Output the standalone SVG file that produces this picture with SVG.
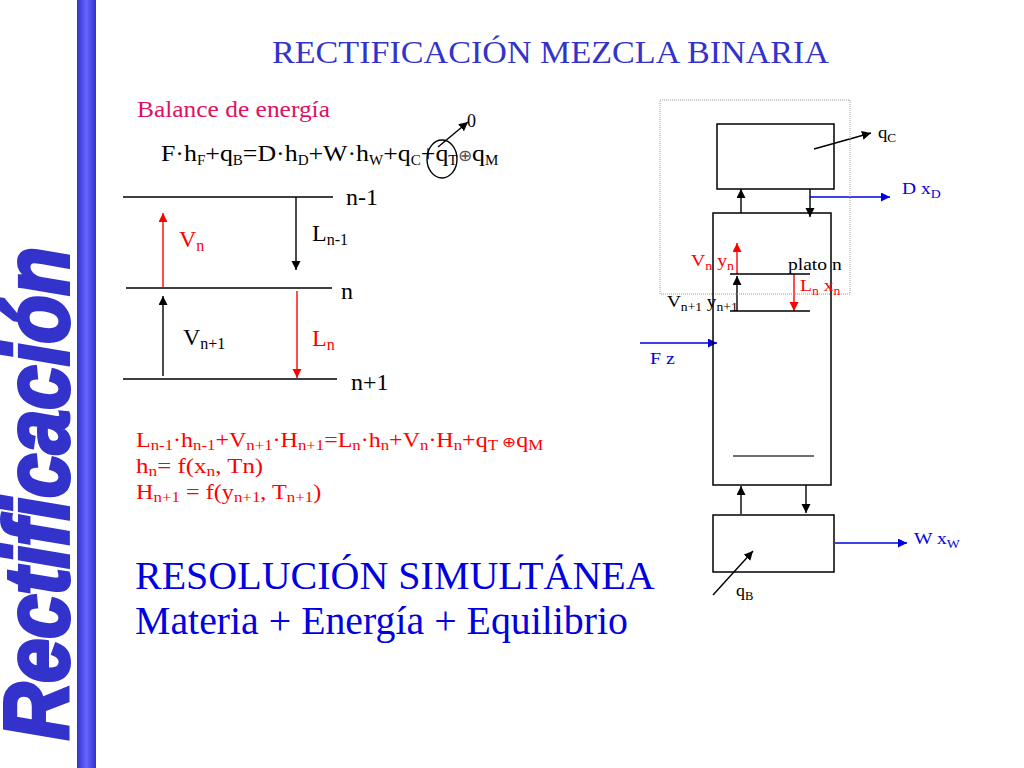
<svg xmlns="http://www.w3.org/2000/svg" width="1024" height="768" viewBox="0 0 1024 768">
<style>
text{font-family:"Liberation Serif","Times New Roman",serif;white-space:pre}
.k{fill:#000}.r{fill:#f00}.b{fill:#0000e0}
.l{stroke:#000;stroke-width:1.4;fill:none}
.lr{stroke:#f00;stroke-width:1.4;fill:none}
.lb{stroke:#0000e0;stroke-width:1.6;fill:none}
.box{stroke:#000;stroke-width:1.5;fill:none}
</style>
<defs>
<linearGradient id="bar" x1="0" x2="1" y1="0" y2="0"><stop offset="0" stop-color="#3333cc"/><stop offset=".5" stop-color="#6666ff"/><stop offset="1" stop-color="#3333cc"/></linearGradient>
<marker id="ak" markerWidth="10" markerHeight="10" refX="9" refY="4.5" orient="auto" markerUnits="userSpaceOnUse"><path d="M0 0L9 4.5L0 9z" fill="#000"/></marker>
<marker id="ar" markerWidth="10" markerHeight="10" refX="9" refY="4.5" orient="auto" markerUnits="userSpaceOnUse"><path d="M0 0L9 4.5L0 9z" fill="#f00"/></marker>
<marker id="ab" markerWidth="10" markerHeight="10" refX="9" refY="4.5" orient="auto" markerUnits="userSpaceOnUse"><path d="M0 0L9 4.5L0 9z" fill="#0000e0"/></marker>
</defs>
<rect width="1024" height="768" fill="#fff"/>
<rect x="77" y="0" width="19" height="768" fill="url(#bar)"/>
<text transform="translate(68 740) rotate(-90)" textLength="493" lengthAdjust="spacingAndGlyphs" style="font-family:'Liberation Sans',Arial,sans-serif;font-weight:bold;font-style:italic;font-size:90px;stroke:#3333cc;stroke-width:4px" fill="#3333cc">Rectificación</text>
<text x="272" y="63" font-size="32" fill="#3333cc" textLength="557" lengthAdjust="spacingAndGlyphs">RECTIFICACIÓN MEZCLA BINARIA</text>
<text transform="translate(137 117) scale(1.06 1)" font-size="24" fill="#e0115f">Balance de energía</text>
<text x="467" y="127" font-size="18" class="k">0</text>
<text transform="translate(161 161) scale(1.077 1)" font-size="24" class="k">F·h<tspan font-size="14" dy="4">F</tspan><tspan dy="-4">+q</tspan><tspan font-size="14" dy="4">B</tspan><tspan dy="-4">=D·h</tspan><tspan font-size="14" dy="4">D</tspan><tspan dy="-4">+W·h</tspan><tspan font-size="14" dy="4">W</tspan><tspan dy="-4">+q</tspan><tspan font-size="14" dy="4">C</tspan><tspan dy="-4">+q</tspan><tspan font-size="14" dy="4">T</tspan><tspan dy="-4" font-size="16" fill="#555">⊕</tspan><tspan>q</tspan><tspan font-size="14" dy="4">M</tspan></text>
<text x="346" y="205" font-size="24" class="k">n-1</text>
<text x="341" y="299" font-size="24" class="k">n</text>
<text x="351" y="390" font-size="24" class="k">n+1</text>
<text x="179" y="247" font-size="24" class="r">V<tspan font-size="16" dy="4">n</tspan></text>
<text x="312" y="241" font-size="24" class="k">L<tspan font-size="16" dy="4">n-1</tspan></text>
<text x="183" y="345" font-size="24" class="k">V<tspan font-size="16" dy="4">n+1</tspan></text>
<text x="312" y="346" font-size="24" class="r">L<tspan font-size="16" dy="4">n</tspan></text>
<text transform="translate(136 447) scale(1.2 1)" font-size="20" class="r">L<tspan font-size="14" dy="3">n-1</tspan><tspan dy="-3">·h</tspan><tspan font-size="14" dy="3">n-1</tspan><tspan dy="-3">+V</tspan><tspan font-size="14" dy="3">n+1</tspan><tspan dy="-3">·H</tspan><tspan font-size="14" dy="3">n+1</tspan><tspan dy="-3">=L</tspan><tspan font-size="14" dy="3">n</tspan><tspan dy="-3">·h</tspan><tspan font-size="14" dy="3">n</tspan><tspan dy="-3">+V</tspan><tspan font-size="14" dy="3">n</tspan><tspan dy="-3">·H</tspan><tspan font-size="14" dy="3">n</tspan><tspan dy="-3">+q</tspan><tspan font-size="14" dy="3">T</tspan><tspan dy="-3" font-size="14"> ⊕</tspan><tspan>q</tspan><tspan font-size="14" dy="3">M</tspan></text>
<text transform="translate(136 473) scale(1.245 1)" font-size="20" class="r">h<tspan font-size="14" dy="3">n</tspan><tspan dy="-3">= f(x</tspan><tspan font-size="14" dy="3">n</tspan><tspan dy="-3">, Tn)</tspan></text>
<text transform="translate(136 499) scale(1.21 1)" font-size="20" class="r">H<tspan font-size="14" dy="3">n+1</tspan><tspan dy="-3"> = f(y</tspan><tspan font-size="14" dy="3">n+1</tspan><tspan dy="-3">, T</tspan><tspan font-size="14" dy="3">n+1</tspan><tspan dy="-3">)</tspan></text>
<text x="135" y="589" font-size="40" class="b">RESOLUCIÓN SIMULTÁNEA</text>
<text x="135" y="634" font-size="40" class="b" textLength="493" lengthAdjust="spacingAndGlyphs">Materia + Energía + Equilibrio</text>
<g id="connectors">
<path class="l" d="M123 197H333M126 288H332M123 379H337"/>
<path class="l" marker-end="url(#ak)" d="M296 197V270"/>
<path class="lr" marker-end="url(#ar)" d="M163 287V213"/>
<path class="l" marker-end="url(#ak)" d="M163 376V296"/>
<path class="lr" marker-end="url(#ar)" d="M297 291V378"/>
<path class="l" marker-end="url(#ak)" d="M438 147L468 122"/>
<ellipse class="l" cx="442" cy="159" rx="15" ry="19"/>
<path class="l" marker-end="url(#ak)" d="M814 149L871 133"/>
<path class="l" marker-end="url(#ak)" d="M741 213V189"/>
<path class="l" marker-end="url(#ak)" d="M810 189V217"/>
<path class="lb" marker-end="url(#ab)" d="M810 197H890"/>
<path class="lr" marker-end="url(#ar)" d="M737 274V243"/>
<path class="l" marker-end="url(#ak)" d="M737 311V276"/>
<path class="lr" marker-end="url(#ar)" d="M794 274V311"/>
<path class="l" d="M730 274H810M730 311H810"/>
<path class="l" stroke-opacity=".75" d="M733 456H814"/>
<path class="lb" marker-end="url(#ab)" d="M640 343H717"/>
<path class="l" marker-end="url(#ak)" d="M741 514V486"/>
<path class="l" marker-end="url(#ak)" d="M806 485V513"/>
<path class="lb" marker-end="url(#ab)" d="M835 543H907"/>
<path class="l" marker-end="url(#ak)" d="M713 595L753 551"/>
</g>
<g id="envelope"><rect x="660" y="100" width="190" height="194" fill="none" stroke="#999" stroke-width="1" stroke-dasharray="1 1"/></g>
<g id="condenser"><rect class="box" x="717" y="124" width="117" height="65"/></g>
<g id="column"><rect class="box" x="713" y="213" width="118" height="272"/></g>
<g id="reboiler"><rect class="box" x="713" y="515" width="121" height="57"/></g>
<text transform="translate(878 138) scale(1.1 1)" font-size="17" class="k">q<tspan font-size="12" dy="4">C</tspan></text>
<text transform="translate(902 194) scale(1.15 1)" font-size="17" class="b">D x<tspan font-size="12" dy="4">D</tspan></text>
<text transform="translate(691 266) scale(1.16 1)" font-size="17" class="r">V<tspan font-size="12" dy="4">n</tspan><tspan dy="-4"> y</tspan><tspan font-size="12" dy="4">n</tspan></text>
<text transform="translate(788 270) scale(1.15 1)" font-size="17" class="k">plato n</text>
<text transform="translate(800 291) scale(1.15 1)" font-size="17" class="r">L<tspan font-size="12" dy="4">n</tspan><tspan dy="-4"> x</tspan><tspan font-size="12" dy="4">n</tspan></text>
<text transform="translate(667 307) scale(1.13 1)" font-size="17" class="k">V<tspan font-size="12" dy="4">n+1</tspan><tspan dy="-4"> y</tspan><tspan font-size="12" dy="4">n+1</tspan></text>
<text transform="translate(650 364) scale(1.17 1)" font-size="17" class="b">F z</text>
<text transform="translate(914 544) scale(1.15 1)" font-size="17" class="b">W x<tspan font-size="12" dy="4">W</tspan></text>
<text transform="translate(736 596) scale(1.05 1)" font-size="17" class="k">q<tspan font-size="12" dy="4">B</tspan></text>
</svg>
